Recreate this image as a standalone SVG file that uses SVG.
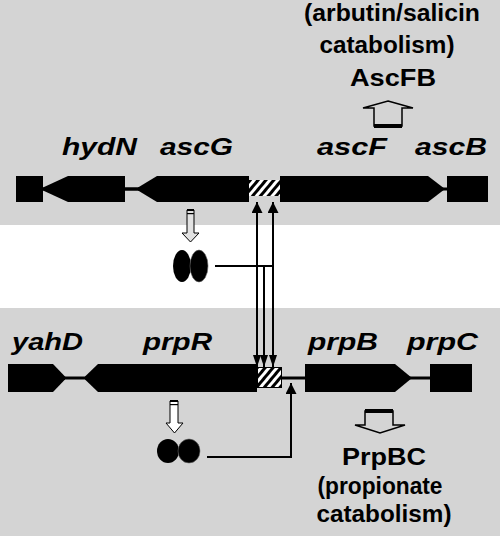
<svg xmlns="http://www.w3.org/2000/svg" width="500" height="536" viewBox="0 0 500 536">
<style>
.bg{fill:#d4d4d4}
.gene{fill:#000}
.lbl{font-family:"Liberation Sans",Arial,sans-serif;font-weight:bold;font-style:italic;font-size:24px;fill:#000}
.txt{font-family:"Liberation Sans",Arial,sans-serif;font-weight:bold;font-size:23px;fill:#000}
.con{stroke:#000;stroke-width:2;fill:none}
.hollow{stroke:#000;stroke-width:1.5}
</style>
<defs>
<pattern id="hatch" width="6" height="6" patternUnits="userSpaceOnUse" patternTransform="rotate(40)">
<rect width="6" height="6" fill="#fff"/>
<rect width="3" height="6" fill="#000"/>
</pattern>
<marker id="ah" viewBox="0 0 10 10" refX="10" refY="5" markerWidth="11" markerHeight="11" markerUnits="userSpaceOnUse" orient="auto-start-reverse">
<path d="M0,0 L10,5 L0,10 z" fill="#000"/>
</marker>
<marker id="ahs" viewBox="0 0 10 10" refX="10" refY="5" markerWidth="12" markerHeight="8" markerUnits="userSpaceOnUse" orient="auto-start-reverse" preserveAspectRatio="none">
<path d="M0,0 L10,5 L0,10 z" fill="#000"/>
</marker>
</defs>
<rect width="500" height="536" fill="#fff"/>
<rect class="bg" x="0" y="0" width="500" height="225"/>
<rect class="bg" x="0" y="308" width="500" height="228"/>

<g id="top-operon">
<rect class="gene" x="16" y="176" width="27" height="26"/>
<rect class="gene" x="43" y="187.5" width="110" height="3"/>
<rect class="gene" x="125" y="187.5" width="20" height="3"/>
<rect class="gene" x="440" y="187.5" width="10" height="3"/>
</g>
<g id="hydN">
<polygon class="gene" points="43,187.5 68,176 125,176 125,202 68,202 43,190.5"/>
<text class="lbl" x="62" y="155" textLength="75" lengthAdjust="spacingAndGlyphs">hydN</text>
</g>
<g id="ascG">
<polygon class="gene" points="138,187.5 157,176 249,176 249,202 157,202 138,190.5"/>
<text class="lbl" x="160" y="155" textLength="73" lengthAdjust="spacingAndGlyphs">ascG</text>
</g>
<g id="ascPromoter">
<rect x="249" y="180" width="31" height="16" fill="url(#hatch)"/>
</g>
<g id="ascF">
<polygon class="gene" points="280,176 428,176 445,189 428,202 280,202"/>
<text class="lbl" x="317" y="155" textLength="70" lengthAdjust="spacingAndGlyphs">ascF</text>
</g>
<g id="ascB">
<rect class="gene" x="447" y="176" width="41" height="26"/>
<text class="lbl" x="415" y="155" textLength="72" lengthAdjust="spacingAndGlyphs">ascB</text>
</g>
<g id="AscFB">
<text class="txt" x="392" y="21" text-anchor="middle" textLength="176" lengthAdjust="spacingAndGlyphs">(arbutin/salicin</text>
<text class="txt" x="387" y="53" text-anchor="middle" textLength="135" lengthAdjust="spacingAndGlyphs">catabolism)</text>
<text class="txt" x="393" y="86" text-anchor="middle" textLength="86" lengthAdjust="spacingAndGlyphs">AscFB</text>
<polygon class="hollow" fill="#d4d4d4" points="388,101 413,108 402,108 402,126 374,126 374,108 363,108"/>
<rect x="374" y="124" width="28" height="4" fill="#000"/>
</g>
<g id="AscG-protein">
<polygon stroke="#000" stroke-width="1" fill="#e2e2e2" points="187,210 194,210 194,233 199,233 190.5,242 182,233 187,233"/>
<rect x="187" y="209" width="7" height="2" fill="#000"/>
<rect x="187" y="213" width="7" height="1.2" fill="#000"/>
<ellipse cx="182" cy="266" rx="9" ry="16" fill="#000"/>
<ellipse cx="199" cy="266" rx="9" ry="16" fill="#000" stroke="#666" stroke-width="0.6"/>
</g>

<g id="bottom-operon">
<rect class="gene" x="60" y="376.5" width="30" height="3"/>
<rect class="gene" x="282" y="376.5" width="25" height="3"/>
<rect class="gene" x="408" y="376.5" width="25" height="3"/>
</g>
<g id="yahD">
<polygon class="gene" points="8,364 53,364 65,376.5 65,379.5 53,392 8,392"/>
<text class="lbl" x="12" y="350" textLength="71" lengthAdjust="spacingAndGlyphs">yahD</text>
</g>
<g id="prpR">
<polygon class="gene" points="85,376.5 98,364 257,364 257,392 98,392 85,379.5"/>
<text class="lbl" x="143" y="350" textLength="69" lengthAdjust="spacingAndGlyphs">prpR</text>
</g>
<g id="prpPromoter">
<rect x="257.5" y="367.5" width="24" height="20" fill="url(#hatch)" stroke="#000" stroke-width="1"/>
</g>
<g id="prpB">
<polygon class="gene" points="305,364 395,364 412,378 395,392 305,392"/>
<text class="lbl" x="308" y="350" textLength="70" lengthAdjust="spacingAndGlyphs">prpB</text>
</g>
<g id="prpC">
<rect class="gene" x="430" y="364" width="42" height="28"/>
<text class="lbl" x="407" y="350" textLength="71" lengthAdjust="spacingAndGlyphs">prpC</text>
</g>
<g id="PrpBC">
<polygon class="hollow" fill="#d4d4d4" points="365,411 393,411 393,425 405,425 380,433 355,425 365,425"/>
<rect x="365" y="409" width="28" height="4" fill="#000"/>
<text class="txt" x="384" y="465" text-anchor="middle" textLength="84" lengthAdjust="spacingAndGlyphs">PrpBC</text>
<text class="txt" x="380" y="494" text-anchor="middle" textLength="125" lengthAdjust="spacingAndGlyphs">(propionate</text>
<text class="txt" x="384" y="522" text-anchor="middle" textLength="135" lengthAdjust="spacingAndGlyphs">catabolism)</text>
</g>
<g id="PrpR-protein">
<polygon stroke="#000" stroke-width="1" fill="#fff" points="170,401 178,401 178,423 183,423 174.5,433 166,423 170,423"/>
<rect x="170" y="400" width="8" height="2" fill="#000"/>
<rect x="170" y="404" width="8" height="1.2" fill="#000"/>
<ellipse cx="168" cy="451" rx="11" ry="12" fill="#000"/>
<ellipse cx="189" cy="451" rx="11" ry="12" fill="#000" stroke="#666" stroke-width="0.6"/>
</g>

<g id="connectors">
<line class="con" x1="257" y1="202" x2="257" y2="367" marker-start="url(#ah)" marker-end="url(#ahs)"/>
<line class="con" x1="273" y1="202" x2="273" y2="367" marker-start="url(#ah)" marker-end="url(#ahs)"/>
<line class="con" x1="264" y1="266" x2="264" y2="367" marker-end="url(#ahs)"/>
<line class="con" x1="215" y1="266" x2="273" y2="266"/>
<path class="con" d="M207,457 H291 V383" marker-end="url(#ah)"/>
</g>
</svg>
